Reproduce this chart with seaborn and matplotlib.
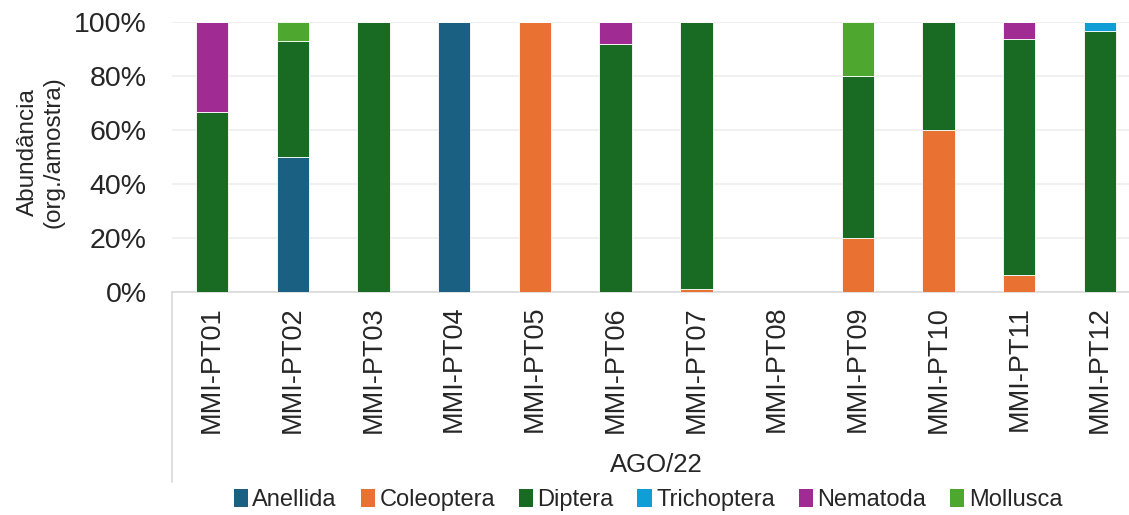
import numpy as np
import pandas as pd
import matplotlib
matplotlib.use("Agg")
import matplotlib.pyplot as plt
import seaborn as sns
from matplotlib.patches import Patch
from matplotlib.lines import Line2D

# Abundância relativa (%) por ponto - AGO/22
pontos = ["MMI-PT01", "MMI-PT02", "MMI-PT03", "MMI-PT04", "MMI-PT05", "MMI-PT06",
          "MMI-PT07", "MMI-PT08", "MMI-PT09", "MMI-PT10", "MMI-PT11", "MMI-PT12"]
anellida = [0, 50, 0, 100, 0, 0, 0, 0, 0, 0, 0, 0]
coleoptera = [0, 0, 0, 0, 100, 0, 1.2, 0, 20, 60, 6.25, 0]
diptera = [66.7, 42.9, 100, 0, 0, 91.7, 98.8, 0, 60, 40, 87.5, 96.7]
trichoptera = [0, 0, 0, 0, 0, 0, 0, 0, 0, 0, 0, 3.3]
nematoda = [33.3, 0, 0, 0, 0, 8.3, 0, 0, 0, 0, 6.25, 0]
mollusca = [0, 7.1, 0, 0, 0, 0, 0, 0, 20, 0, 0, 0]

grupos = ["Anellida", "Coleoptera", "Diptera", "Trichoptera", "Nematoda", "Mollusca"]
cores = ["#196083", "#E97132", "#196B24", "#0F9ED5", "#A02B93", "#4EA72E"]
periodo = "AGO/22"

sns.set_style("white")
plt.rcParams["font.family"] = ["Liberation Sans", "DejaVu Sans"]

df = pd.DataFrame({"Ponto": pontos, "Anellida": anellida, "Coleoptera": coleoptera,
                   "Diptera": diptera, "Trichoptera": trichoptera,
                   "Nematoda": nematoda, "Mollusca": mollusca})
df["Ponto"] = pd.Categorical(df["Ponto"], categories=pontos, ordered=True)

fig = plt.figure(figsize=(11.29, 5.15), dpi=100)
ax = fig.add_axes([171.6 / 1129, 1 - 292 / 515, 968.8 / 1129, 270 / 515])

base = np.zeros(len(pontos))
for grupo, cor in zip(grupos, cores):
    vals = df[grupo].to_numpy(dtype=float)
    sns.barplot(data=df, x="Ponto", y=grupo, order=pontos, color=cor, width=0.4,
                bottom=base, errorbar=None, edgecolor="white", linewidth=0.6,
                saturation=1, ax=ax, zorder=3)
    base = base + vals

ax.set_xlim(-0.5, len(pontos) - 0.5)
ax.set_ylim(0, 100)
ax.set_yticks([0, 20, 40, 60, 80, 100])
ax.set_yticklabels([f"{v}%" for v in range(0, 101, 20)], fontsize=20.5)
ax.yaxis.grid(True, color="#EDEDED", linewidth=1.2, zorder=0)
ax.set_axisbelow(True)
ax.tick_params(axis="y", length=0, pad=18)
ax.tick_params(axis="x", length=0, pad=10)
ax.set_xticks(range(len(pontos)))
ax.set_xticklabels(pontos, rotation=90, fontsize=19.5, va="top", ha="center")
ax.set_xlabel("")
ax.set_ylabel("")
for s in ["top", "right", "left"]:
    ax.spines[s].set_visible(False)
ax.spines["bottom"].set_color("#D9D9D9")
ax.spines["bottom"].set_linewidth(1.2)

# caixa da categoria (eixo de dois níveis)
fig.add_artist(Line2D([172 / 1129, 172 / 1129], [1 - 292 / 515, 1 - 482 / 515],
                      color="#D9D9D9", linewidth=1.2))
fig.text(656 / 1129, 1 - 465 / 515, periodo, fontsize=18.5, ha="center", va="center")

fig.text(41 / 1129, 1 - 152 / 515, "Abundância\n(org./amostra)", rotation=90,
         fontsize=17.5, ha="center", va="center", multialignment="center")

handles = [Patch(facecolor=c, edgecolor="none", label=g) for g, c in zip(grupos, cores)]
fig.legend(handles=handles, loc="center", bbox_to_anchor=(648 / 1129, 15 / 515),
           ncol=6, frameon=False, fontsize=17, handlelength=0.6, handleheight=0.8,
           handletextpad=0.2, columnspacing=1.0, borderaxespad=0)

fig.savefig("out.png", dpi=100)
